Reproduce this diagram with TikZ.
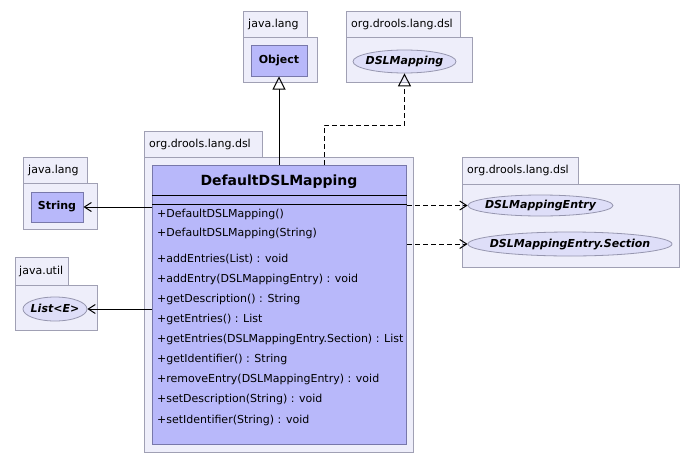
\documentclass[tikz,border=0pt]{standalone}
\usepackage{fontspec}
\setmainfont{DejaVu Sans}
\usetikzlibrary{arrows.meta,shapes.geometric}
\definecolor{pkgfill}{RGB}{238,238,250}
\definecolor{pkgdraw}{RGB}{160,160,180}
\definecolor{clsfill}{RGB}{184,184,250}
\definecolor{clsdraw}{RGB}{120,120,170}
\definecolor{ellfill}{RGB}{222,222,248}
\definecolor{elldraw}{RGB}{150,150,175}
\newcommand{\flatlabel}[1]{\raisebox{-0.5ex}[0pt][0pt]{\makebox[0pt]{#1}}}
\tikzset{
  box/.style={draw=pkgdraw, fill=pkgfill, line width=1pt, anchor=north west, inner sep=0pt},
  pkgtext/.style={anchor=west, inner sep=0pt, font=\fontsize{11}{12}\selectfont},
  clsbox/.style={draw=clsdraw, fill=clsfill, line width=1pt, anchor=north west, inner sep=0pt, font=\bfseries\fontsize{11}{12}\selectfont},
  ifc/.style={ellipse, draw=elldraw, fill=ellfill, line width=0.8pt, inner sep=0pt, font=\bfseries\itshape\fontsize{11}{12}\selectfont},
  member/.style={anchor=west, inner sep=0pt, font=\fontsize{11}{12}\selectfont},
  gen/.style={line width=1pt, -{Triangle[open, length=13pt, width=13pt]}},
  dep/.style={line width=1pt, -{Straight Barb[length=7pt, width=9pt]}},
  dashpat/.style={dash pattern=on 5pt off 3pt}
}
\begin{document}
\begin{tikzpicture}[x=1pt, y=-1pt]
\useasboundingbox (0,0) rectangle (695,463);
% java.lang (Object)
\node[box, minimum width=64pt, minimum height=26pt] (t1) at (243,11) {};
\node[pkgtext] (l1) at (248,24) {java.lang};
\node[box, minimum width=74pt, minimum height=45pt] (b1) at (243,37) {};
\node[clsbox, minimum width=56pt, minimum height=31pt, anchor=center] (obj) at (279,60.5) {Object};
% org.drools.lang.dsl (DSLMapping)
\node[box, minimum width=114pt, minimum height=26pt] (t2) at (346,11) {};
\node[pkgtext] (l2) at (351,24) {org.drools.lang.dsl};
\node[box, minimum width=126pt, minimum height=45pt] (b2) at (346,37) {};
\node[ifc, minimum width=103pt, minimum height=23pt] (dslm) at (404.5,61.5) {\flatlabel{DSLMapping}};
% main package
\node[box, minimum width=118pt, minimum height=26pt] (t3) at (144,131) {};
\node[pkgtext] (l3) at (149,144) {org.drools.lang.dsl};
\node[box, minimum width=269pt, minimum height=295pt] (b3) at (144,157) {};
\node[box, draw=clsdraw, fill=clsfill, minimum width=254pt, minimum height=279pt] (cls) at (152,165) {};
\node[font=\bfseries\fontsize{14}{16}\selectfont, inner sep=0pt] (title) at (279,182) {DefaultDSLMapping};
\draw[line width=1pt] (cls.west |- 0,195) coordinate (s1a) -- (cls.east |- 0,195) coordinate (s1b);
\draw[line width=1pt] (cls.west |- 0,204) coordinate (s2a) -- (cls.east |- 0,204) coordinate (s2b);
\node[member] (m1) at (157,214) {+DefaultDSLMapping()};
\node[member] (m2) at (157,233) {+DefaultDSLMapping(String)};
\node[member] (m3) at (157,259) {+addEntries(List) : void};
\node[member] (m4) at (157,279) {+addEntry(DSLMappingEntry) : void};
\node[member] (m5) at (157,299) {+getDescription() : String};
\node[member] (m6) at (157,319) {+getEntries() : List};
\node[member] (m7) at (157,339) {+getEntries(DSLMappingEntry.Section) : List};
\node[member] (m8) at (157,359) {+getIdentifier() : String};
\node[member] (m9) at (157,379) {+removeEntry(DSLMappingEntry) : void};
\node[member] (m10) at (157,399) {+setDescription(String) : void};
\node[member] (m11) at (157,420) {+setIdentifier(String) : void};
% java.lang (String)
\node[box, minimum width=64pt, minimum height=26pt] (t4) at (23,157) {};
\node[pkgtext] (l4) at (28,170) {java.lang};
\node[box, minimum width=74pt, minimum height=46pt] (b4) at (23,183) {};
\node[clsbox, minimum width=52pt, minimum height=30pt, anchor=center] (str) at (57,207) {String};
% java.util
\node[box, minimum width=53pt, minimum height=28pt] (t5) at (15,257) {};
\node[pkgtext] (l5) at (19,271) {java.util};
\node[box, minimum width=82pt, minimum height=45pt] (b5) at (15,285) {};
\node[ifc, minimum width=64pt, minimum height=24pt] (lst) at (55,309) {\flatlabel{List<E>}};
% right package
\node[box, minimum width=116pt, minimum height=27pt] (t6) at (462,157) {};
\node[pkgtext] (l6) at (467,170.5) {org.drools.lang.dsl};
\node[box, minimum width=217pt, minimum height=83pt] (b6) at (462,184) {};
\node[ifc, minimum width=145pt, minimum height=21pt] (ent) at (540.5,205.5) {\flatlabel{DSLMappingEntry}};
\node[ifc, minimum width=204pt, minimum height=24pt] (sec) at (570,244) {\flatlabel{DSLMappingEntry.Section}};
% connectors
\draw[gen] (obj.south |- cls.north) -- (obj.south);
\coordinate (r0) at (324,165);
\coordinate (rb) at (324,125);
\draw[gen, dashpat] (r0) -- (rb) -| (dslm.south);
\draw[dep] (cls.west |- str) -- (str.east);
\draw[dep] (cls.west |- lst) -- (lst.east);
\draw[dep, dashpat] (cls.east |- ent) -- (ent.west);
\draw[dep, dashpat] (cls.east |- sec) -- (sec.west);
\end{tikzpicture}
\end{document}
